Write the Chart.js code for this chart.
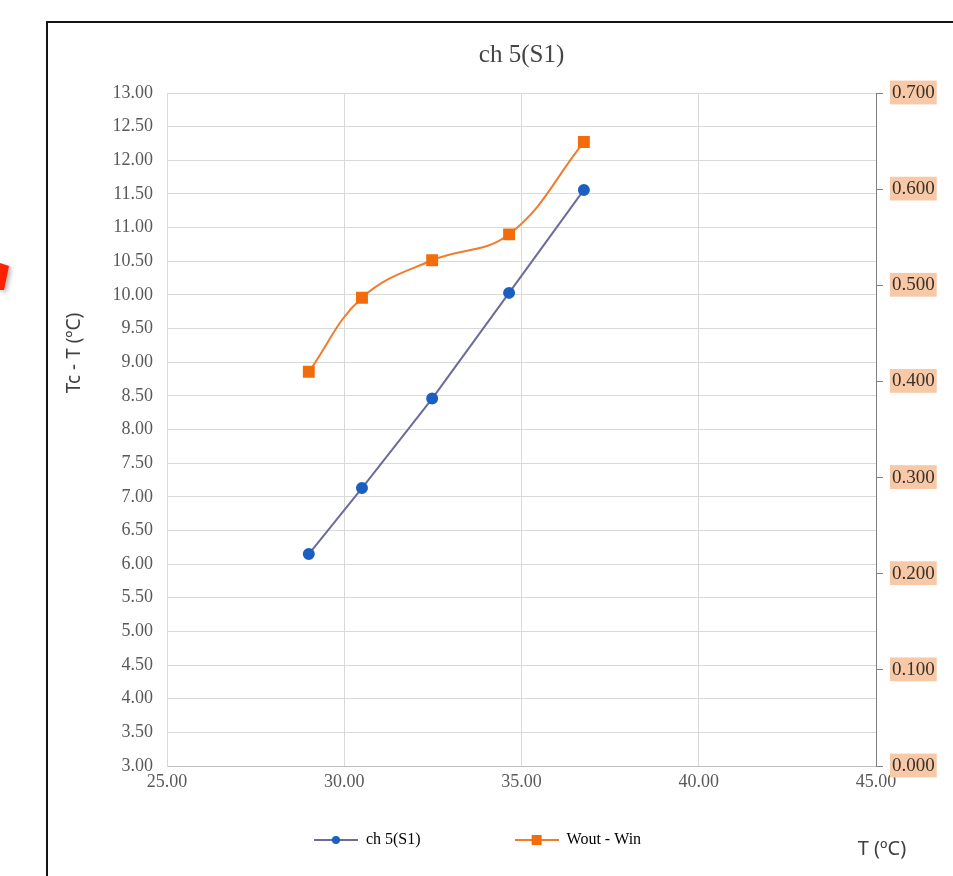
<!DOCTYPE html>
<html>
<head>
<meta charset="utf-8">
<script src="https://cdn.jsdelivr.net/npm/chart.js@4.4.1/dist/chart.umd.min.js"></script>
<style>
  html, body { margin: 0; padding: 0; background: #fff; }
  #wrap { width: 953px; height: 876px; position: relative; }
</style>
</head>
<body>
<div id="wrap"><canvas id="Plot"></canvas></div>
<script>
// values
var temps = [29.00, 30.50, 32.48, 34.65, 36.76];
var tcMinusT = [6.15, 7.13, 8.46, 10.03, 11.56];
var woutMinusWin = [0.410, 0.487, 0.526, 0.553, 0.649];
var seriesNames = ['ch 5(S1)', 'Wout - Win'];
var chartTitle = 'ch 5(S1)';
var yTitle = 'Tc - T (\u00baC)';
var xTitle = 'T (\u00baC)';

var serif = "'Liberation Serif', 'DejaVu Serif', serif";
var sans = "'Noto Sans', 'Open Sans', sans-serif";

function points(xs, ys){
  var arr = [];
  for (var i = 0; i < xs.length; i++) {
    arr.push({x: xs[i], y: ys[i]});
  }
  return arr;
}

// little legend icon: line with marker in the middle
function legendIcon(lineColor, markColor, shape){
  var c = document.createElement('canvas');
  c.width = 44; c.height = 12;
  var g = c.getContext('2d');
  g.strokeStyle = lineColor;
  g.lineWidth = 2;
  g.beginPath(); g.moveTo(0, 6); g.lineTo(44, 6); g.stroke();
  g.fillStyle = markColor;
  if (shape == 'circle') {
    g.beginPath(); g.arc(22, 6, 4, 0, Math.PI*2); g.fill();
  } else {
    g.fillRect(17, 1, 10, 10);
  }
  return c;
}

var decor = {
  id: 'decor',
  beforeDraw: function(chart){
    var c = chart.ctx;
    c.save();
    c.fillStyle = '#fff';
    c.fillRect(0, 0, chart.width, chart.height);
    // frame
    c.strokeStyle = '#151515';
    c.lineWidth = 2;
    c.beginPath();
    c.moveTo(47, 876); c.lineTo(47, 22); c.lineTo(953, 22);
    c.stroke();
    // bit of red arrow at the left edge
    c.shadowColor = 'rgba(0,0,0,0.35)';
    c.shadowBlur = 5;
    c.shadowOffsetX = 2;
    c.shadowOffsetY = 2;
    c.fillStyle = '#ff2200';
    c.beginPath();
    c.moveTo(0, 263); c.lineTo(9, 266); c.lineTo(4, 290); c.lineTo(0, 290);
    c.closePath(); c.fill();
    c.restore();
  },
  afterDraw: function(chart){
    var c = chart.ctx;
    c.save();
    c.fillStyle = '#404040';
    c.font = '20px ' + sans;
    c.textAlign = 'center';
    c.textBaseline = 'middle';
    c.fillText(xTitle, 882, 849);
    c.font = '19px ' + sans;
    c.translate(75, 353);
    c.rotate(-Math.PI/2);
    c.fillText(yTitle, 0, 0);
    c.restore();
  }
};

var ctx = document.getElementById('Plot').getContext('2d');
var myChart = new Chart(ctx, {
  type: 'scatter',
  data: {
    datasets: [{
      label: seriesNames[0],
      data: points(temps, tcMinusT),
      yAxisID: 'y',
      showLine: true,
      borderColor: '#6b6b9c',
      borderWidth: 2,
      backgroundColor: '#1b5fc1',
      pointBorderColor: '#1b5fc1',
      pointRadius: 5,
      pointHoverRadius: 5,
      tension: 0
    }, {
      label: seriesNames[1],
      data: points(temps, woutMinusWin),
      yAxisID: 'y1',
      showLine: true,
      borderColor: '#f07c2c',
      borderWidth: 2,
      backgroundColor: '#f26c0c',
      pointBorderColor: '#f26c0c',
      pointStyle: 'rect',
      pointRadius: 7,
      pointHoverRadius: 7,
      tension: 0.4
    }]
  },
  options: {
    responsive: true,
    maintainAspectRatio: false,
    animation: false,
    layout: { padding: { left: 62, right: 0, top: 37, bottom: 18 } },
    plugins: {
      title: {
        display: true,
        text: chartTitle,
        fullSize: false,
        color: '#454545',
        font: { family: serif, size: 25, weight: 'normal' },
        padding: { top: 3, bottom: 23 }
      },
      legend: {
        position: 'bottom',
        labels: {
          usePointStyle: true,
          pointStyleWidth: 44,
          boxHeight: 12,
          padding: 10,
          color: '#595959',
          font: { family: serif, size: 16 },
          generateLabels: function(chart){
            return [{
              text: seriesNames[0] + ' '.repeat(21),
              pointStyle: legendIcon('#6b6b9c', '#1b5fc1', 'circle'),
              fillStyle: '#1b5fc1', strokeStyle: '#6b6b9c', lineWidth: 0,
              hidden: false, datasetIndex: 0
            }, {
              text: seriesNames[1] + ' '.repeat(15),
              pointStyle: legendIcon('#f07c2c', '#f26c0c', 'rect'),
              fillStyle: '#f26c0c', strokeStyle: '#f07c2c', lineWidth: 0,
              hidden: false, datasetIndex: 1
            }];
          }
        }
      },
      tooltip: { enabled: false }
    },
    scales: {
      x: {
        type: 'linear',
        min: 25, max: 45,
        ticks: {
          stepSize: 5,
          padding: 5,
          color: '#595959',
          font: { family: serif, size: 18 },
          callback: function(v){ return v.toFixed(2); }
        },
        grid: { color: '#d9d9d9', drawTicks: false },
        border: { color: '#bfbfbf' },
        afterFit: function(s){ s.height = 56; }
      },
      y: {
        position: 'left',
        min: 3, max: 13,
        ticks: {
          stepSize: 0.5,
          padding: 14,
          color: '#595959',
          font: { family: serif, size: 18 },
          callback: function(v){ return v.toFixed(2); }
        },
        grid: { color: '#d9d9d9', drawTicks: false },
        border: { color: '#d9d9d9' },
        afterFit: function(s){ s.width = 105; }
      },
      y1: {
        position: 'right',
        min: 0, max: 0.7,
        ticks: {
          stepSize: 0.1,
          padding: 9,
          color: '#3b3026',
          font: { family: serif, size: 19 },
          showLabelBackdrop: true,
          backdropColor: '#f8c9a8',
          backdropPadding: { top: 1, bottom: 0, left: 2, right: 2 },
          callback: function(v){ return v.toFixed(3); }
        },
        grid: { drawOnChartArea: false, color: '#808080', tickLength: 7 },
        border: { color: '#808080' },
        afterFit: function(s){ s.width = 77; }
      }
    }
  },
  plugins: [decor]
});
</script>
</body>
</html>
